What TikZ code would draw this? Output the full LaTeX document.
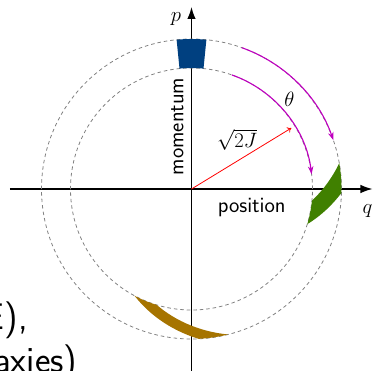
\documentclass[tikz,border=0pt]{standalone}
\usetikzlibrary{arrows.meta}
\definecolor{blueb}{RGB}{0,64,128}
\definecolor{greenb}{RGB}{64,128,0}
\definecolor{brownb}{RGB}{166,116,0}
\definecolor{magb}{RGB}{191,0,191}
\definecolor{circgray}{RGB}{128,128,128}
\newcommand\phaseregion[2]{%
  \fill[#1] plot[domain=84.3:95.7,samples=12] ({\x-#2*85.8}:150)
   -- plot[domain=150:121,samples=16] ({95.7-#2*(101.2-0.531*(\x-121))}:\x)
   -- plot[domain=95.7:84.3,samples=12] ({\x-#2*101.2}:121)
   -- plot[domain=121:150,samples=16] ({84.3-#2*(101.2-0.531*(\x-121))}:\x) -- cycle;}
\begin{document}
\begin{tikzpicture}[x=1pt,y=1pt,
  axis/.style={line width=1.3pt,-{Latex[length=12pt,width=8.5pt]}},
  orbit/.style={circgray,line width=0.8pt,dash pattern=on 3.5pt off 3pt},
  flow/.style={magb,line width=1.1pt,-{Stealth[length=8pt,width=5.5pt]}},
  mathlbl/.style={inner sep=0pt,font=\fontsize{20}{24}\selectfont},
  sanslbl/.style={inner sep=0pt,font=\fontsize{22}{26}\selectfont\sffamily},
  bigtxt/.style={inner sep=0pt,font=\fontsize{37}{44}\selectfont\sffamily}]
\useasboundingbox (-191.5,-182) rectangle (181.5,189);
\clip (-191.5,-182) rectangle (181.5,189);
\coordinate (O) at (0,0);
\coordinate (xs) at (-181.5,0);
\coordinate (xe) at (181,0);
\coordinate (ys) at (0,-190);
\coordinate (ye) at (0,182);
\draw[axis] (xs) -- (xe);
\draw[axis] (ys) -- (ye);
\draw[orbit] (O) circle[radius=150];
\draw[orbit] (O) circle[radius=121];
\phaseregion{blueb}{0}
\phaseregion{greenb}{1}
\phaseregion{brownb}{2}
\draw[flow] (70.5:121) arc[start angle=70.5,end angle=7,radius=121];
\draw[flow] (70.4:150) arc[start angle=70.4,end angle=19,radius=150];
\coordinate (Rtip) at (31.4:117);
\draw[red,line width=0.8pt,-{To[length=4pt,width=6pt]}] (O) -- (Rtip);
\node[mathlbl,anchor=base] (p) at (-15.5,167.4) {$p$};
\node[mathlbl,anchor=base] (q) at (176,-25) {$q$};
\node[mathlbl,anchor=base] (th) at (98,82.3) {$\theta$};
\node[mathlbl] (rad) at (45.5,49.5) {$\sqrt{2J}$};
\node[sanslbl,anchor=base] (pos) at (60.2,-23.7) {position};
\node[sanslbl,rotate=90,anchor=base] (mom) at (-8.2,62.5) {momentum};
\node[bigtxt,anchor=base east] (t1) at (-163.5,-141) {E),};
\node[bigtxt,anchor=base east] (t2) at (-113.8,-184) {axies)};
\end{tikzpicture}
\end{document}
